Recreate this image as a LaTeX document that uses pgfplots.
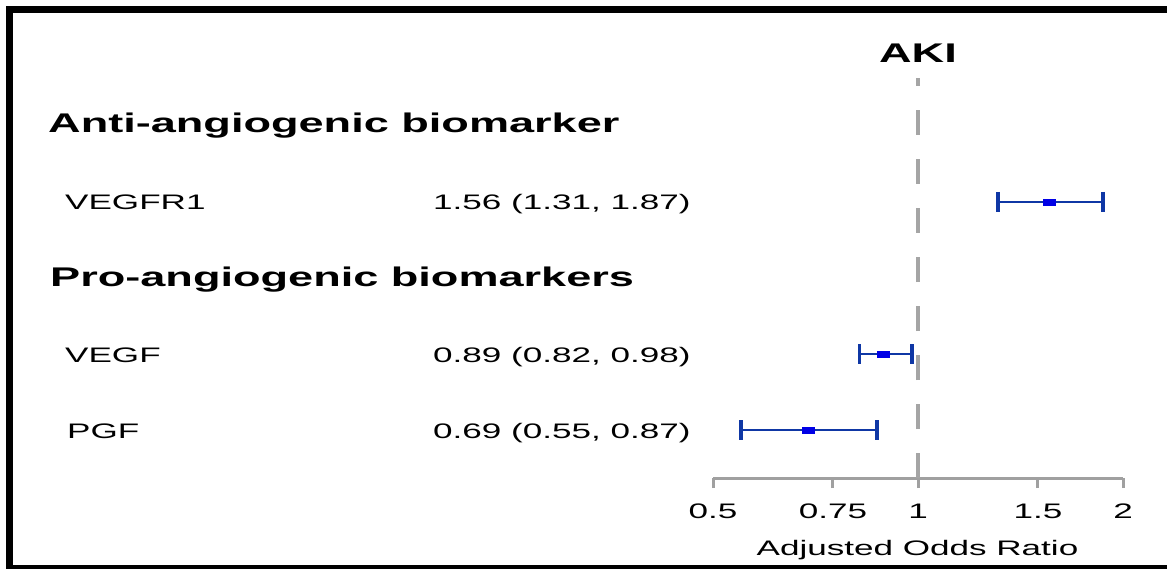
\documentclass[border=0pt]{standalone}
\usepackage{fontspec}
\setmainfont[FakeStretch=1.67]{Liberation Sans}
\usepackage{pgfplots}
\pgfplotsset{compat=1.18}
\definecolor{refgray}{RGB}{165,165,165}
\definecolor{axgray}{RGB}{160,160,160}
\definecolor{ebar}{RGB}{15,55,165}
\definecolor{pt}{RGB}{0,0,230}
\newcommand{\reg}{\fontsize{21}{25}\selectfont}
\newcommand{\hdr}{\fontsize{27}{32}\selectfont\bfseries}
\begin{document}
\begin{tikzpicture}[x=1pt,y=1pt]
\useasboundingbox (0,0) rectangle (1167,-569);
\fill[white] (0,0) rectangle (1167,-569);
\begin{axis}[
  at={(713pt,-478pt)}, anchor=south west,
  scale only axis, width=410pt, height=400pt,
  xmode=log, log basis x=2,
  xmin=0.5, xmax=2, ymin=0.3684, ymax=5.6316,
  axis x line*=bottom, axis y line=none,
  x axis line style={line width=3pt, color=axgray},
  xtick={0.5,0.75,1,1.5,2},
  xticklabels={0.5,0.75,1,1.5,2},
  ytick=\empty,
  tick align=outside, major tick length=10pt,
  xtick style={line width=3pt, color=axgray},
  /pgf/number format/assume math mode=true,
  xticklabel style={font=\reg, anchor=base, yshift=-30pt},
  clip=false,
]
\draw[refgray, line width=4pt, dash pattern=on 25pt off 24pt]
  (axis cs:1,0.3684) -- (axis cs:1,5.6316);
% confidence intervals with caps
\addplot[ebar, line width=2.7pt, mark=|, mark size=10pt, mark options={line width=3.5pt}]
  coordinates {(1.31,4) (1.87,4)};
\addplot[ebar, line width=2.7pt, mark=|, mark size=10pt, mark options={line width=3.5pt}]
  coordinates {(0.82,2) (0.98,2)};
\addplot[ebar, line width=2.7pt, mark=|, mark size=10pt, mark options={line width=3.5pt}]
  coordinates {(0.55,1) (0.87,1)};
% point estimates
\addplot[only marks, mark=square*, mark size=3pt, mark options={xscale=2, fill=pt, draw=pt, line width=0.5pt}]
  coordinates {(1.56,4) (0.89,2) (0.69,1)};
\end{axis}
% frame
\fill[black] (6,-6) rectangle (1167,-13);
\fill[black] (6,-6) rectangle (13,-569);
\fill[black] (6,-565) rectangle (1167,-569);
% texts
\node[anchor=base, inner sep=0pt] at (918,-63) {\hdr AKI};
\node[anchor=base west, inner sep=0pt] at (48,-133) {\hdr Anti-angiogenic biomarker};
\node[anchor=base west, inner sep=0pt] at (65,-210) {\reg VEGFR1};
\node[anchor=base west, inner sep=0pt] at (433,-210) {\reg 1.56 (1.31, 1.87)};
\node[anchor=base west, inner sep=0pt] at (50,-287) {\hdr Pro-angiogenic biomarkers};
\node[anchor=base west, inner sep=0pt] at (65,-362) {\reg VEGF};
\node[anchor=base west, inner sep=0pt] at (433,-362) {\reg 0.89 (0.82, 0.98)};
\node[anchor=base west, inner sep=0pt] at (67,-438) {\reg PGF};
\node[anchor=base west, inner sep=0pt] at (433,-438) {\reg 0.69 (0.55, 0.87)};
\node[anchor=base, inner sep=0pt] at (917.5,-555) {\reg Adjusted Odds Ratio};
\end{tikzpicture}
\end{document}
